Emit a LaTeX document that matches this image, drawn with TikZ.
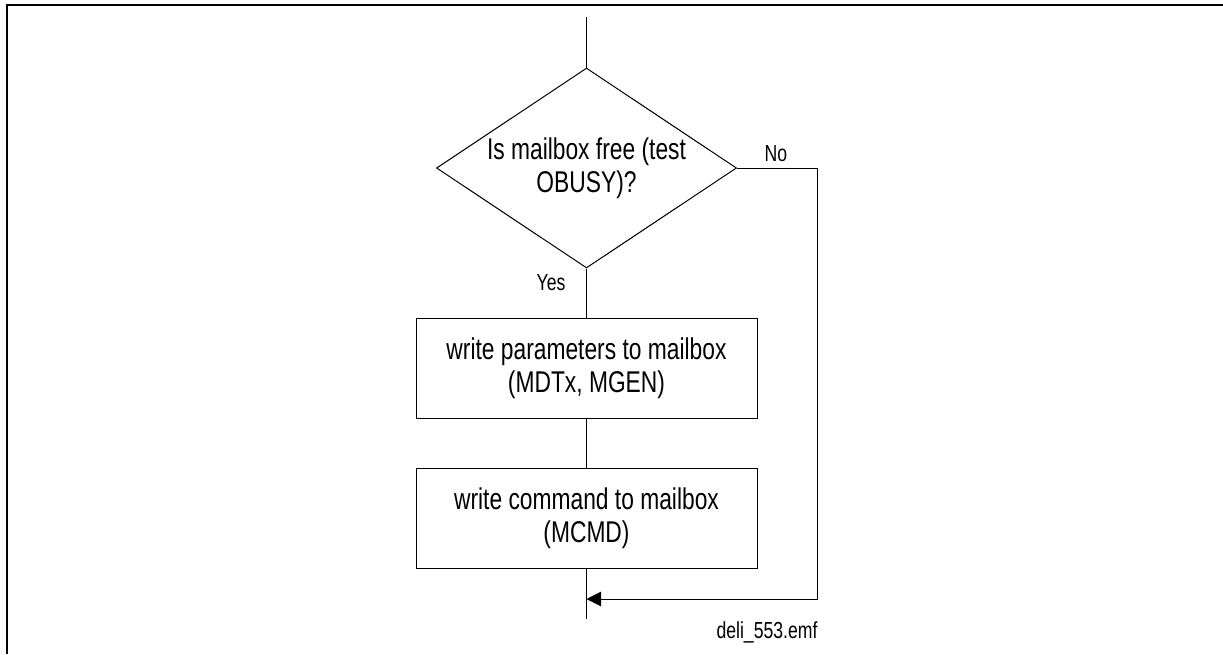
\documentclass[tikz,border=0pt]{standalone}
\usepackage{fontspec}
\setmainfont{Liberation Sans}
\newfontfamily\narrowfont[FakeStretch=0.76]{Liberation Sans}
\usetikzlibrary{arrows.meta,shapes.geometric}

\tikzset{
  decision/.style={draw, shape=diamond, aspect=1.5, inner sep=0pt,
    minimum width=225pt, minimum height=150pt, align=center,
    font=\narrowfont\fontsize{22.5}{24.75}\selectfont},
  process/.style={draw, rectangle, minimum width=255.75pt, minimum height=75pt,
    align=center, font=\narrowfont\fontsize{22.5}{24.75}\selectfont},
  branch/.style={font=\narrowfont\fontsize{17.4}{20}\selectfont, inner sep=0pt}
}

\begin{document}
\begin{tikzpicture}[x=0.75pt, y=-0.75pt, >={Triangle[length=11pt,width=11pt]}, line width=0.75pt]
  \useasboundingbox (0,0) rectangle (1223,654);

  % Frame
  \draw[line width=1.5pt] (7,654) -- (7,5) -- (1223,5);

  % Decision
  \node[decision] (test) at (586.5,168) {Is mailbox free (test\\OBUSY)?};

  % Actions
  \node[process] (param) at (586.5,368) {write parameters to mailbox\\(MDTx, MGEN)};
  \node[process] (cmd) at (586.5,518) {write command to mailbox\\(MCMD)};

  % Free ends of the flow
  \coordinate (start) at (586.5,17);
  \coordinate (stop) at (586.5,619);
  \coordinate (join) at (586.5,599);
  \coordinate (turn) at (817,599);

  % Main flow
  \draw (start) -- (test.north);
  \draw (test.south) -- (param.north);
  \draw (param.south) -- (cmd.north);
  \draw (cmd.south) -- (stop);

  % Busy branch
  \draw[->] (test.east) -| (turn) -- (join);

  % Branch labels
  \node[branch] (no) at (776,154) {No};
  \node[branch] (yes) at (551,283) {Yes};

  % File name
  \node[branch] (file) at (767,632) {deli\_553.emf};
\end{tikzpicture}
\end{document}
